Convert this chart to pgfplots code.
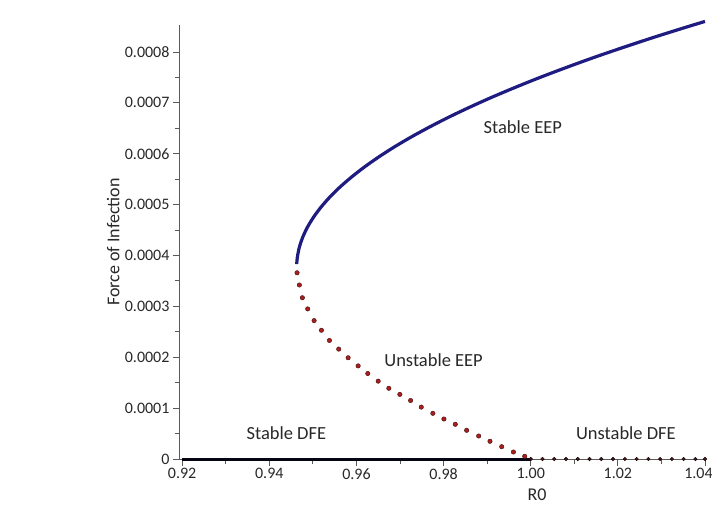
\documentclass[border=0pt]{standalone}
\usepackage{fontspec}
\setmainfont{Carlito}
\usepackage{pgfplots}
\pgfplotsset{compat=1.18}

\definecolor{eepblue}{RGB}{30,28,128}
\definecolor{dotred}{RGB}{170,30,30}
\definecolor{dotdark}{RGB}{80,20,20}
\definecolor{axisgray}{RGB}{90,90,90}
\definecolor{txtgray}{RGB}{40,40,40}

\begin{document}
\begin{tikzpicture}[x=1pt,y=1pt]
\useasboundingbox (-180,-45) rectangle (532,459);
\begin{axis}[
  at={(0,0)}, anchor=south west,
  scale only axis, width=525pt, height=434pt,
  xmin=0.9195, xmax=1.04, ymin=0, ymax=0.000853,
  clip=false,
  axis lines*=left,
  axis line style={axisgray, line width=1pt, -},
  every tick/.style={axisgray, line width=0.9pt},
  tick align=outside,
  major tick length=7pt, minor tick length=5pt,
  xtick={0.92,0.94,0.96,0.98,1.00,1.02,1.04},
  xticklabels={0.92,0.94,0.96,0.98,1.00,1.02,\hspace*{-13pt}1.04},
  ytick={0,0.0001,0.0002,0.0003,0.0004,0.0005,0.0006,0.0007,0.0008},
  yticklabels={0,0.0001,0.0002,0.0003,0.0004,0.0005,0.0006,0.0007,0.0008},
  minor x tick num=1, minor y tick num=1,
  scaled x ticks=false, scaled y ticks=false,
  /pgf/number format/assume math mode=true,
  tick label style={font=\fontsize{16}{18}\selectfont, text=txtgray},
  xticklabel style={yshift=1pt},
  yticklabel style={xshift=0pt},
  label style={font=\fontsize{18}{21}\selectfont, text=txtgray},
  xlabel={R0},
  xlabel style={at={(axis description cs:0.68,-0.083)}, anchor=center},
  ylabel={Force of Infection},
  ylabel style={at={(axis description cs:-0.127,0.5)}, anchor=center},
]

% stable disease-free branch
\addplot[color=black!85!eepblue, line width=3pt] coordinates {
  (0.92,0) (1.00,0)
};

% stable endemic branch
\addplot[color=eepblue, line width=3.2pt, smooth] coordinates {
  (0.94629,0.0003831) (0.94644,0.0003968) (0.94690,0.0004165)
  (0.94768,0.0004361) (0.94876,0.0004558) (0.95016,0.0004754)
  (0.95187,0.0004951) (0.95388,0.0005147) (0.95621,0.0005344)
  (0.95885,0.0005540) (0.96180,0.0005737) (0.96506,0.0005933)
  (0.96863,0.0006130) (0.97251,0.0006326) (0.97670,0.0006522)
  (0.98120,0.0006719) (0.98601,0.0006915) (0.99113,0.0007112)
  (0.99656,0.0007308) (1.00230,0.0007505) (1.00835,0.0007701)
  (1.01471,0.0007898) (1.02139,0.0008094) (1.02837,0.0008291)
  (1.03566,0.0008487) (1.04000,0.0008600)
};

% unstable endemic branch
\addplot[only marks, mark=*, mark size=2.2pt,
  mark options={fill=dotred, draw=dotdark, line width=0.5pt}] coordinates {
  (0.94637,0.000366) (0.94690,0.000342) (0.94759,0.000317)
  (0.94881,0.000295) (0.95028,0.000272) (0.95196,0.000253)
  (0.95380,0.000233) (0.95593,0.000216) (0.95809,0.000199)
  (0.96039,0.000183) (0.96260,0.000168) (0.96499,0.000153)
  (0.96743,0.000139) (0.96996,0.000127) (0.97242,0.000115)
  (0.97488,0.000102) (0.97754,0.0000898) (0.98007,0.0000786)
  (0.98269,0.0000682) (0.98529,0.0000564) (0.98805,0.0000452)
  (0.99065,0.0000348) (0.99334,0.0000242) (0.99603,0.0000138)
  (0.99862,0.0000053)
};

% unstable disease-free branch
\addplot[only marks, mark=*, mark size=1.8pt,
  mark options={fill=dotdark, draw=black, line width=0.4pt}] coordinates {
  (1.0000,0) (1.0027,0) (1.0054,0) (1.0081,0) (1.0108,0)
  (1.0135,0) (1.0162,0) (1.0189,0) (1.0216,0) (1.0243,0)
  (1.0270,0) (1.0297,0) (1.0324,0) (1.0351,0) (1.0378,0)
  (1.0400,0)
};

\node[font=\fontsize{18.5}{21}\selectfont, text=txtgray] at (axis cs:0.99817,0.000652) {Stable EEP};
\node[font=\fontsize{18.5}{21}\selectfont, text=txtgray] at (axis cs:0.97771,0.000194) {Unstable EEP};
\node[font=\fontsize{18.5}{21}\selectfont, text=txtgray] at (axis cs:0.94391,0.0000511) {Stable DFE};
\node[font=\fontsize{18.5}{21}\selectfont, text=txtgray] at (axis cs:1.02185,0.0000511) {Unstable DFE};
\end{axis}
\end{tikzpicture}
\end{document}
